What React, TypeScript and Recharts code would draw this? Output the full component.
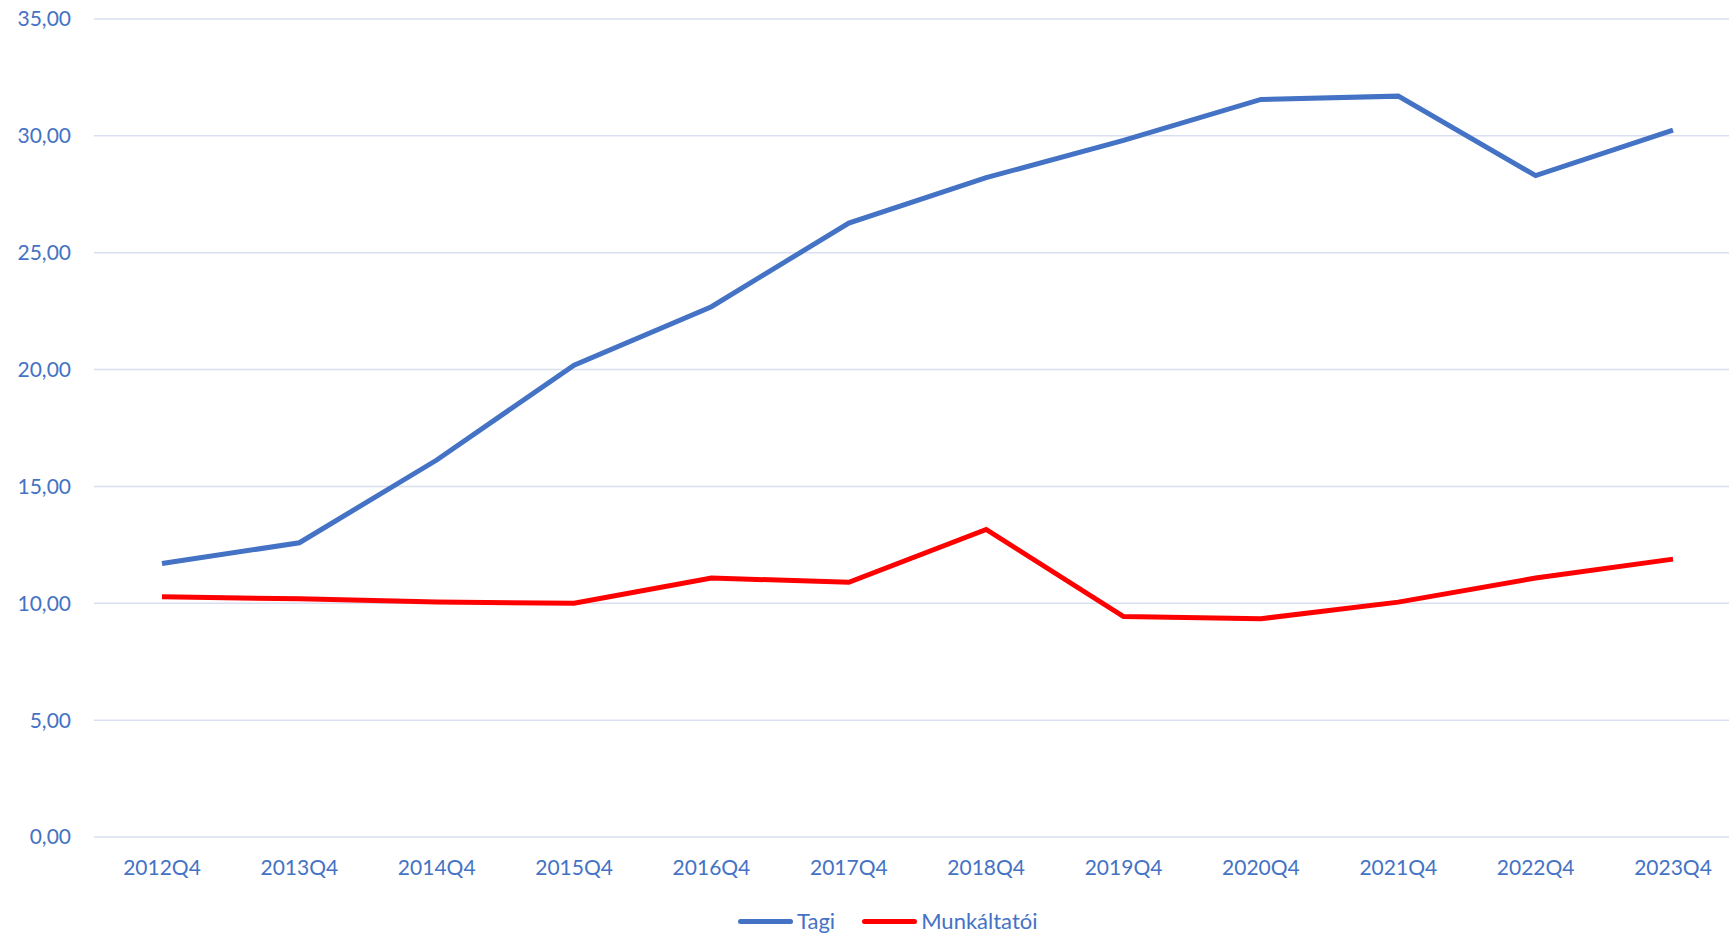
import React from 'react';
import { LineChart, Line, XAxis, YAxis, CartesianGrid, Legend } from 'recharts';

const quarters = [
  '2012Q4', '2013Q4', '2014Q4', '2015Q4', '2016Q4', '2017Q4',
  '2018Q4', '2019Q4', '2020Q4', '2021Q4', '2022Q4', '2023Q4',
];
const tagi = [11.7, 12.59, 16.13, 20.19, 22.69, 26.27, 28.21, 29.81, 31.56, 31.7, 28.3, 30.24];
const munkaltatoi = [10.28, 10.19, 10.05, 10.0, 11.08, 10.9, 13.16, 9.43, 9.34, 10.05, 11.08, 11.89];
const yTicks = [0, 5, 10, 15, 20, 25, 30, 35];

const BLUE = '#4472C4';
const RED = '#FF0000';
const FONT = 'Lato, "Open Sans", sans-serif';

const data = quarters.map((q, i) => ({ q, Tagi: tagi[i], 'Munkáltatói': munkaltatoi[i] }));

const fmt = (v: number) => v.toFixed(2).replace('.', ',');

const LegendBox = () => (
  <div style={{ display: 'flex', alignItems: 'center', fontFamily: FONT, fontSize: 22, lineHeight: '20px', color: BLUE }}>
    {[
      { name: 'Tagi', color: BLUE },
      { name: 'Munkáltatói', color: RED },
    ].map((it) => (
      <div key={it.name} style={{ display: 'flex', alignItems: 'center', marginRight: 27 }}>
        <span
          style={{ display: 'inline-block', width: 55, height: 5, borderRadius: 3, background: it.color, marginRight: 4 }}
        />
        <span>{it.name}</span>
      </div>
    ))}
  </div>
);

const App = () => {
  return (
    <div style={{ position: 'fixed', top: 0, left: 0, width: 1729, height: 933, overflow: 'hidden', background: '#fff' }}>
      <LineChart width={1741} height={933} data={data} margin={{ top: 19, right: 0, bottom: 46, left: 0 }}>
        <CartesianGrid vertical={false} stroke="#D9DFF0" strokeWidth={1.5} />
        <XAxis
          dataKey="q"
          axisLine={false}
          tickLine={false}
          tickSize={0}
          tickMargin={23}
          height={50}
          padding={{ left: 68, right: 68 }}
          tick={{ fill: BLUE, fontSize: 21, fontFamily: FONT }}
          interval={0}
        />
        <YAxis
          domain={[0, 35]}
          ticks={yTicks}
          tickFormatter={fmt}
          axisLine={false}
          tickLine={false}
          tickSize={0}
          tickMargin={23}
          width={94}
          tick={{ fill: BLUE, fontSize: 21, fontFamily: FONT }}
        />
        <Line
          type="linear"
          dataKey="Tagi"
          stroke={BLUE}
          strokeWidth={5}
          dot={false}
          isAnimationActive={false}
        />
        <Line
          type="linear"
          dataKey="Munkáltatói"
          stroke={RED}
          strokeWidth={5}
          dot={false}
          isAnimationActive={false}
        />
        <Legend
          layout="horizontal"
          verticalAlign="middle"
          align="center"
          content={() => <LegendBox />}
          wrapperStyle={{ position: 'absolute', top: 911, left: 738, width: 'auto' }}
        />
      </LineChart>
    </div>
  );
};

export default App;
